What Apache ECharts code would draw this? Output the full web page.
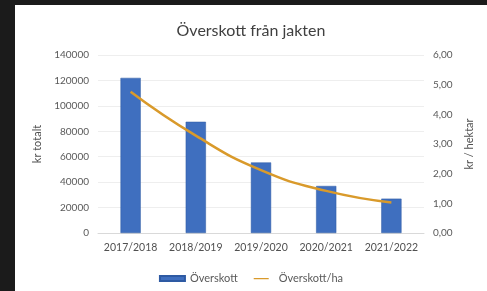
<!DOCTYPE html>
<html>
<head>
<meta charset="utf-8">
<script src="https://cdn.jsdelivr.net/npm/echarts@6/dist/echarts.min.js"></script>
<style>
  html, body { margin: 0; padding: 0; background: #ffffff; width: 487px; height: 291px; overflow: hidden; }
  #frameLeft { position: absolute; left: 0; top: 0; width: 15px; height: 291px; background: #1b1b1b; }
  #frameTop { position: absolute; left: 0; top: 0; width: 487px; height: 5px; background: #1b1b1b; }
  #chartData { position: absolute; left: 15px; top: 5px; width: 472px; height: 286px; background: #ffffff; }
</style>
</head>
<body>
<div id="frameLeft"></div>
<div id="frameTop"></div>
<div id="chartData"></div>
<script>
// data
var categories = ['2017/2018', '2018/2019', '2019/2020', '2020/2021', '2021/2022'];
var overskott = [122000, 87500, 55500, 37000, 27000];   // kr totalt
var overskottHa = [4.76, 3.28, 2.12, 1.42, 1.03];       // kr / hektar
var legendNames = ['Överskott', 'Överskott/ha'];

var myChart = echarts.init(document.getElementById('chartData'));

var option = {
    textStyle: { fontFamily: 'Lato' },
    title: {
        text: 'Överskott från jakten',
        left: 'center',
        top: 13,
        textStyle: { color: '#404040', fontSize: 16, fontWeight: 'normal', fontFamily: 'Lato' }
    },
    legend: {
        data: [
            { name: legendNames[0], icon: 'rect' },
            { name: legendNames[1], icon: 'path://M0,0 M0,10 M0,4 L30,4 L30,6.5 L0,6.5 Z' }
        ],
        bottom: 2,
        left: 'center',
        itemWidth: 25,
        itemHeight: 5,
        itemGap: 16,
        textStyle: { color: '#595959', fontSize: 11, fontFamily: 'Lato' }
    },
    grid: { left: 83, right: 63, top: 50, bottom: 58 },
    xAxis: {
        type: 'category',
        data: categories,
        axisTick: { show: false },
        axisLine: { lineStyle: { color: '#d9d9d9' } },
        axisLabel: { color: '#505050', fontSize: 10.5, fontFamily: 'Lato', margin: 9, interval: 0 }
    },
    yAxis: [{
        type: 'value',
        min: 0, max: 140000, interval: 20000,
        name: 'kr totalt',
        nameLocation: 'middle',
        nameGap: 46,
        nameTextStyle: { color: '#505050', fontSize: 11, fontFamily: 'Lato' },
        axisLabel: {
            color: '#595959', fontSize: 10, fontFamily: 'Lato', margin: 9,
            formatter: function (v) { return String(v); }
        },
        splitLine: { lineStyle: { color: '#eeeeee' } }
    }, {
        type: 'value',
        min: 0, max: 6, interval: 1,
        name: 'kr / hektar',
        nameLocation: 'middle',
        nameGap: 40,
        nameTextStyle: { color: '#505050', fontSize: 11, fontFamily: 'Lato' },
        axisLabel: {
            color: '#595959', fontSize: 10, fontFamily: 'Lato', margin: 9,
            formatter: function (v) { return v.toFixed(2).replace('.', ','); }
        },
        splitLine: { show: false }
    }],
    series: [{
        name: legendNames[0],
        type: 'bar',
        data: overskott,
        barWidth: '31%',
        itemStyle: { color: '#3f6fbf', borderColor: '#2e5aa3', borderWidth: 0.5 }
    }, {
        name: legendNames[1],
        type: 'line',
        yAxisIndex: 1,
        data: overskottHa,
        smooth: true,
        symbol: 'none',
        lineStyle: { color: '#d99a2b', width: 2.5 },
        itemStyle: { color: '#d99a2b' }
    }]
};

myChart.setOption(option);
</script>
</body>
</html>
